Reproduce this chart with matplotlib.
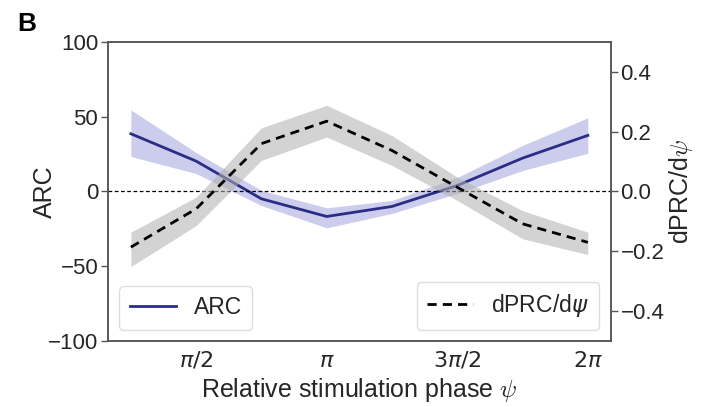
import numpy as np
import matplotlib
matplotlib.use("Agg")
import matplotlib.pyplot as plt

plt.rcParams['font.family'] = ['Liberation Sans', 'DejaVu Sans']
plt.rcParams['font.size'] = 16
plt.rcParams['axes.labelsize'] = 18
plt.rcParams['legend.fontsize'] = 16.5
plt.rcParams['text.color'] = '#262626'
plt.rcParams['axes.labelcolor'] = '#262626'
plt.rcParams['xtick.color'] = '#262626'
plt.rcParams['ytick.color'] = '#262626'

# stimulation phases (pi/4 ... 2pi)
phase = np.pi / 4 * np.arange(1, 9)

# ARC mean and band (left axis)
arc = [38.6, 20.3, -4.9, -16.7, -10.0, 4.0, 22.3, 37.5]
arc_lo = [23.4, 12.0, -9.4, -24.3, -14.7, -1.3, 14.0, 25.6]
arc_hi = [54.6, 26.0, 0.7, -10.9, -6.0, 9.4, 30.8, 49.3]

# dPRC/dpsi mean and band (right axis)
dprc = [-0.186, -0.058, 0.160, 0.235, 0.137, 0.014, -0.108, -0.170]
dprc_lo = [-0.251, -0.114, 0.104, 0.182, 0.087, -0.030, -0.158, -0.211]
dprc_hi = [-0.136, -0.019, 0.213, 0.288, 0.187, 0.048, -0.064, -0.136]

xticks = [np.pi / 2, np.pi, 3 * np.pi / 2, 2 * np.pi]
xticklabels = [r'$\pi/2$', r'$\pi$', r'$3\pi/2$', r'$2\pi$']

fig = plt.figure(figsize=(7.06, 4.07), dpi=100)
ax = fig.add_axes([0.153, 0.162, 0.712, 0.735])
ax2 = ax.twinx()

# ARC
ax.fill_between(phase, arc_lo, arc_hi, color='#8f91d6', alpha=0.45, lw=0)
ax.plot(phase, arc, color='#2b2d85', lw=2, label='ARC')
ax.axhline(0, color='k', lw=0.9, ls=(0, (3, 2)))
ax.set_ylim(-100, 100)
ax.set_yticks([-100, -50, 0, 50, 100])
ax.set_ylabel('ARC')
ax.yaxis.set_label_coords(-0.101, 0.5)
ax.set_xticks(xticks)
ax.set_xticklabels(xticklabels)
ax.set_xlabel(r'Relative stimulation phase $\psi$', math_fontfamily='cm', labelpad=3)
ax.tick_params(axis='x', length=0, pad=7)
ax.tick_params(axis='y', length=5, width=1, color='#555555', pad=2)
ax.legend(loc='lower left', frameon=True, fancybox=True, edgecolor='#dddddd',
          framealpha=1, handlelength=2.0, borderpad=0.45)

# dPRC/dpsi
ax2.fill_between(phase, dprc_lo, dprc_hi, color='#b0b0b0', alpha=0.55, lw=0)
ax2.plot(phase, dprc, color='k', lw=2, ls=(0, (3.3, 2.2)), label=r'dPRC/d$\psi$')
ax2.set_ylim(-0.5, 0.5)
ax2.set_yticks([-0.4, -0.2, 0.0, 0.2, 0.4])
ax2.set_ylabel(r'dPRC/d$\psi$', math_fontfamily='cm')
ax2.yaxis.set_label_coords(1.113, 0.5)
ax2.tick_params(axis='y', length=5, width=1, color='#555555', pad=2)
ax2.legend(loc='lower right', frameon=True, fancybox=True, edgecolor='#dddddd',
           framealpha=1, handlelength=2.0, borderpad=0.45)

for a in (ax, ax2):
    for s in a.spines.values():
        s.set_color('#555555')
        s.set_linewidth(1.1)

fig.text(0.024, 0.925, 'B', fontsize=19, fontweight='bold', color='k')

fig.savefig('out.png', dpi=100)
